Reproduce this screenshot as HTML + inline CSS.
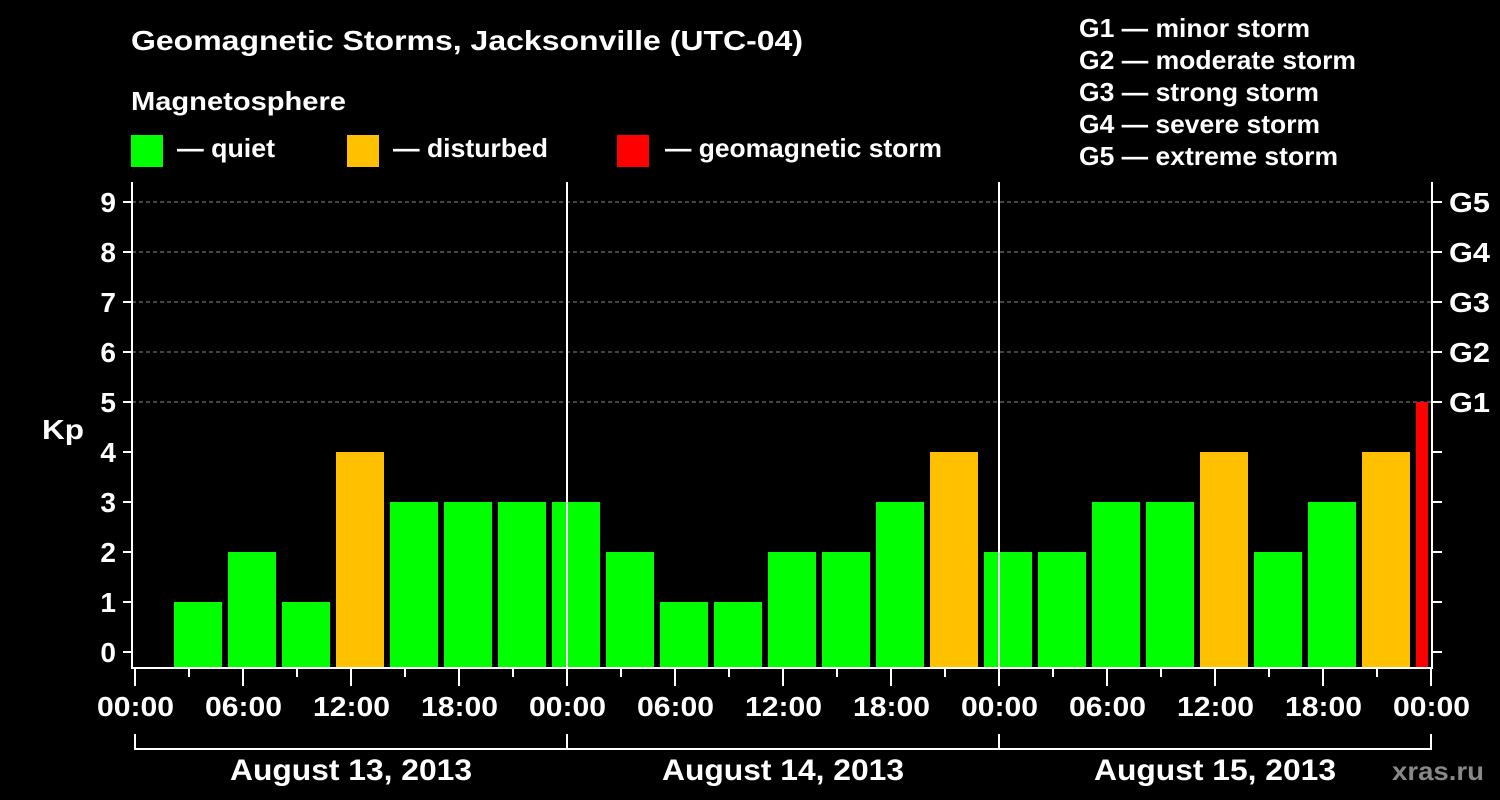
<!DOCTYPE html>
<html><head><meta charset="utf-8"><style>
html,body{margin:0;padding:0;background:#000;}
svg{display:block;font-family:"Liberation Sans",Arial,sans-serif;font-weight:bold;}
</style></head><body>
<svg id="chart" width="1500" height="800" xmlns="http://www.w3.org/2000/svg">
<rect width="1500" height="800" fill="#000"/>
<text x="131" y="50" fill="#fff" font-size="28" textLength="672" lengthAdjust="spacingAndGlyphs">Geomagnetic Storms, Jacksonville (UTC-04)</text>
<text x="131" y="110" fill="#fff" font-size="26" textLength="215" lengthAdjust="spacingAndGlyphs">Magnetosphere</text>
<g><rect x="131" y="135" width="32" height="32" fill="#00ff00"/><text x="177" y="157" fill="#fff" font-size="26" textLength="98" lengthAdjust="spacingAndGlyphs">— quiet</text></g>
<g><rect x="347" y="135" width="32" height="32" fill="#ffc000"/><text x="393" y="157" fill="#fff" font-size="26" textLength="155" lengthAdjust="spacingAndGlyphs">— disturbed</text></g>
<g><rect x="617" y="135" width="32" height="32" fill="#ff0000"/><text x="665" y="157" fill="#fff" font-size="26" textLength="277" lengthAdjust="spacingAndGlyphs">— geomagnetic storm</text></g>
<g fill="#fff" font-size="26">
<text x="1079" y="37" textLength="231" lengthAdjust="spacingAndGlyphs">G1 — minor storm</text>
<text x="1079" y="69" textLength="277" lengthAdjust="spacingAndGlyphs">G2 — moderate storm</text>
<text x="1079" y="101" textLength="240" lengthAdjust="spacingAndGlyphs">G3 — strong storm</text>
<text x="1079" y="133" textLength="241" lengthAdjust="spacingAndGlyphs">G4 — severe storm</text>
<text x="1079" y="165" textLength="259" lengthAdjust="spacingAndGlyphs">G5 — extreme storm</text>
</g>
<text x="42" y="439" fill="#fff" font-size="28" textLength="42" lengthAdjust="spacingAndGlyphs">Kp</text>
<text x="1392" y="780" fill="#888" font-size="26" textLength="92" lengthAdjust="spacingAndGlyphs">xras.ru</text>
<g id="grid"></g>
<g id="bars"></g>
<g id="axes"></g>
</svg>
<script>
const kpValues = [1,2,1,4,3,3,3,3,2,1,1,2,2,3,4,2,2,3,3,4,2,3,4,5];
const yTicks = [0,1,2,3,4,5,6,7,8,9];
const gLabels = ["G1","G2","G3","G4","G5"];
const xTickLabels = ["00:00","06:00","12:00","18:00","00:00","06:00","12:00","18:00","00:00","06:00","12:00","18:00","00:00"];
const dayLabels = ["August 13, 2013","August 14, 2013","August 15, 2013"];
const firstBarHour = 3;

const NS="http://www.w3.org/2000/svg";
const X0=135, PX_PER_H=18, Y0=652, PX_PER_KP=50;
const L=132, R=1432, T=182, B=668;
const xs=h=>X0+h*PX_PER_H, ys=v=>Y0-v*PX_PER_KP;
function mk(tag,attrs,parent){const e=document.createElementNS(NS,tag);for(const k in attrs)e.setAttribute(k,attrs[k]);parent.appendChild(e);return e;}
const grid=document.getElementById('grid'),bars=document.getElementById('bars'),axes=document.getElementById('axes');

yTicks.forEach(v=>{
  if(v>=5){const l=mk('line',{x1:L,x2:R,y1:ys(v),y2:ys(v),stroke:'#888','stroke-dasharray':'4,3','stroke-width':1},grid);
  
  }
  const t=mk('line',{x1:123,x2:L,y1:ys(v),y2:ys(v),stroke:'#fff','stroke-width':2},axes);
  
  
  const t2=mk('line',{x1:R,x2:1442,y1:ys(v),y2:ys(v),stroke:'#fff','stroke-width':2},axes);
  
  
  const tx=mk('text',{x:116,y:ys(v)+10,fill:'#fff','font-size':28,'text-anchor':'end'},axes);
  tx.textContent=v;
  
  
});
gLabels.forEach((g,i)=>{
  const tx=mk('text',{x:1449,y:ys(5+i)+10,fill:'#fff','font-size':28,textLength:41,lengthAdjust:'spacingAndGlyphs'},axes);
  tx.textContent=g;
  
  
});

kpValues.forEach((v,i)=>{
  let x1=xs(firstBarHour+i*3)-15, x2=x1+48;
  x1=Math.max(x1,L+1); x2=Math.min(x2,1428);
  const col=v>=5?'#ff0000':(v>=4?'#ffc000':'#00ff00');
  const r=mk('rect',{x:x1,y:ys(v),width:x2-x1,height:B-ys(v),fill:col},bars);
  
  
});

const frame=mk('path',{d:`M${L} ${T}V${B}H${R}V${T}`,fill:'none',stroke:'#fff','stroke-width':2},axes);


[1,2].forEach(d=>{
  const l=mk('line',{x1:xs(24*d),x2:xs(24*d),y1:T,y2:B,stroke:'#fff','stroke-width':2},axes);
  
  
});
for(let h=0;h<=72;h+=3){
  const major=h%6===0;
  const l=mk('line',{x1:xs(h),x2:xs(h),y1:B,y2:major?686:677,stroke:'#fff','stroke-width':2},axes);
  
  
}
xTickLabels.forEach((s,i)=>{
  const tx=mk('text',{x:xs(i*6)-38,y:716,fill:'#fff','font-size':28,textLength:77,lengthAdjust:'spacingAndGlyphs'},axes);
  tx.textContent=s;
  
  
});
const br=mk('path',{d:`M${xs(0)} 734V749H${xs(72)}V734M${xs(24)} 734V749M${xs(48)} 734V749`,fill:'none',stroke:'#fff','stroke-width':2},axes);


dayLabels.forEach((s,i)=>{
  const tx=mk('text',{x:xs(24*i+12)-121,y:780,fill:'#fff','font-size':30,textLength:242,lengthAdjust:'spacingAndGlyphs'},axes);
  tx.textContent=s;
  
  
});
</script>
</body></html>
